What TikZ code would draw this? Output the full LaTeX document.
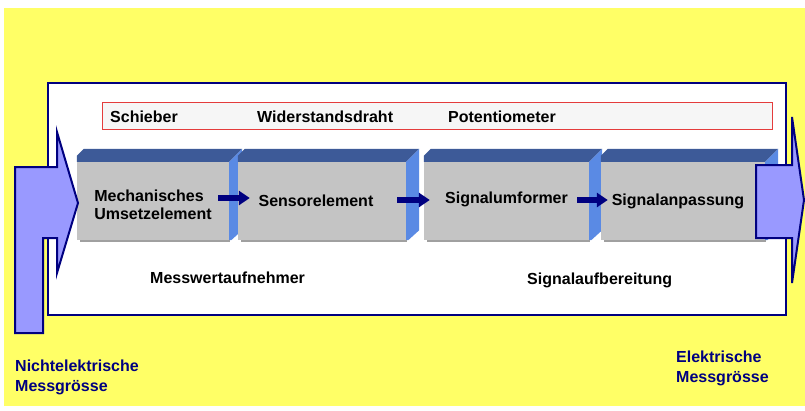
\documentclass[tikz,border=0pt]{standalone}
\usepackage{fontspec}
\setmainfont{Liberation Sans}
\usetikzlibrary{calc,arrows.meta}

\definecolor{bgyellow}{RGB}{255,255,102}
\definecolor{navy}{RGB}{0,0,128}
\definecolor{arrowfill}{RGB}{153,153,255}
\definecolor{frontgray}{RGB}{196,196,196}
\definecolor{shadowgray}{RGB}{160,160,160}
\definecolor{topblue}{RGB}{61,90,152}
\definecolor{sideblue}{RGB}{90,138,228}
\definecolor{stripred}{RGB}{228,60,60}
\definecolor{stripfill}{RGB}{246,246,246}

\tikzset{
  txt/.style={font=\bfseries\fontsize{16}{18}\selectfont, inner sep=0pt, text=black},
  bluetxt/.style={font=\bfseries\fontsize{16}{20}\selectfont, inner sep=0pt, text=navy, align=left},
  boxfront/.style={fill=frontgray, minimum height=78pt, inner sep=0pt},
  flow/.style={navy, line width=6pt, -{Triangle[length=11pt,width=14pt]}},
  blockarrow/.style={draw=navy, fill=arrowfill, line width=2pt, line join=miter},
}

% top and right faces of a 3D block around its front node
\newcommand\blockfaces[1]{%
  \fill[topblue] (#1.north west) -- ++(0,-6) -- ++(7,-7)
    -- ($(#1.north east)+(13,-13)$) -- (#1.north east) -- cycle;
  \fill[sideblue] (#1.north east) -- ++(13,-13)
    -- ($(#1.south east)+(13,-10)$) -- ($(#1.south east)+(2,0)$)
    -- (#1.south east) -- cycle;
  \fill[shadowgray] ($(#1.south west)+(3,0)$) rectangle ($(#1.south east)+(1,2)$);
}

\begin{document}
\begin{tikzpicture}[x=1pt,y=-1pt]
  % page and yellow background
  \useasboundingbox (0,0) rectangle (805,410);
  \fill[white] (0,0) rectangle (805,410);
  \fill[bgyellow] (4,8) rectangle (805,406);

  % white frame
  \node[draw=navy, line width=2pt, fill=white, inner sep=0pt,
        minimum width=738pt, minimum height=232pt] (frame) at (417,199) {};

  % component strip
  \node[draw=stripred, fill=stripfill, line width=1pt, inner sep=0pt,
        minimum width=670pt, minimum height=27pt] (strip) at (437,115.5) {};
  \node[txt, anchor=base west] (s1) at (110,122) {Schieber};
  \node[txt, anchor=base west] (s2) at (257,122) {Widerstandsdraht};
  \node[txt, anchor=base west] (s3) at (448,122) {Potentiometer};

  % blocks
  \node[boxfront, minimum width=152pt] (b1) at (153,201) {};
  \blockfaces{b1}
  \node[boxfront, minimum width=168pt] (b2) at (322,201) {};
  \blockfaces{b2}
  \node[boxfront, minimum width=165pt] (b3) at (506.5,201) {};
  \blockfaces{b3}
  \node[boxfront, minimum width=164pt] (b4) at (683,201) {};
  \blockfaces{b4}

  \node[txt, align=left] (t1) at ([yshift=-4pt]b1.center) {Mechanisches\\Umsetzelement};
  \node[txt] (t2) at ([xshift=-6pt]b2.center) {Sensorelement};
  \node[txt] (t3) at ([yshift=2pt]b3.center) {Signalumformer};
  \node[txt] (t4) at ([xshift=-5pt]b4.center) {Signalanpassung};

  % flow arrows between blocks
  \draw[flow] ([xshift=-11pt,yshift=3pt]b1.east) -- ([xshift=12pt,yshift=3pt]b2.west);
  \draw[flow] ([xshift=-9pt,yshift=1pt]b2.east) -- ([xshift=6pt,yshift=1pt]b3.west);
  \draw[flow] ([xshift=-12pt,yshift=1pt]b3.east) -- ([xshift=7pt,yshift=1pt]b4.west);

  % group captions
  \node[txt, anchor=base west] (g1) at (150,283) {Messwertaufnehmer};
  \node[txt, anchor=base west] (g2) at (527,284) {Signalaufbereitung};

  % input and output block arrows
  \draw[blockarrow] (15,333) -- (15,167) -- (57,167) -- (57,132) -- (78,203)
    -- (57,273) -- (57,238) -- (43,238) -- (43,333) -- cycle;
  \draw[blockarrow] (756,165) -- (792,165) -- (792,117) -- (804,200)
    -- (792,283) -- (792,238) -- (756,238) -- cycle;

  % quantities
  \node[bluetxt, anchor=north west] (qin) at (15,359.3) {Nichtelektrische\\Messgrösse};
  \node[bluetxt, anchor=north west] (qout) at (676,350.3) {Elektrische\\Messgrösse};
\end{tikzpicture}
\end{document}
